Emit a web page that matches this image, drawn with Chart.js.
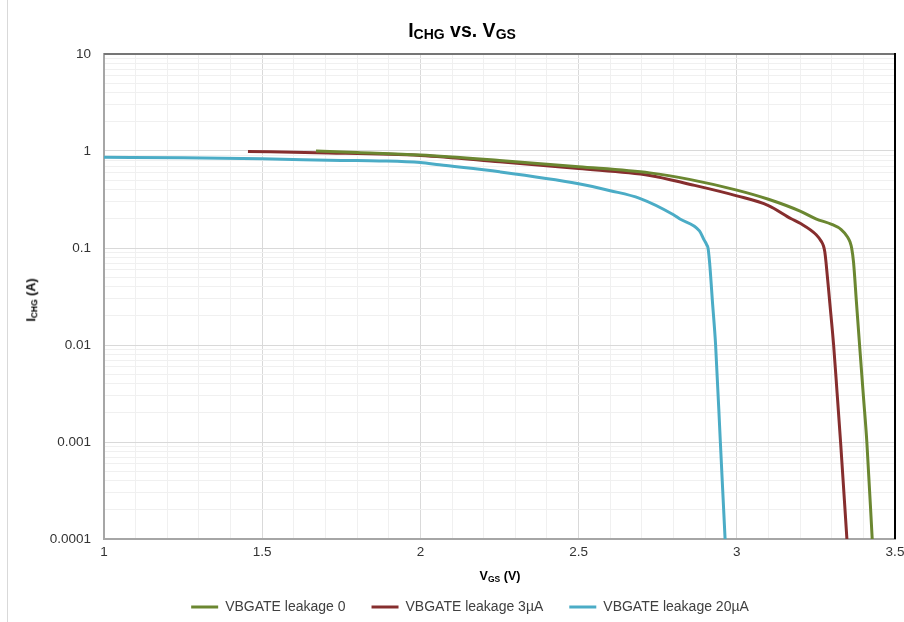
<!DOCTYPE html>
<html>
<head>
<meta charset="utf-8">
<script src="https://cdn.jsdelivr.net/npm/chart.js@4.4.0/dist/chart.umd.min.js"></script>
<style>
html,body{margin:0;padding:0;background:#fff;}
#wrap{position:relative;width:904px;height:622px;overflow:hidden;font-family:"Liberation Sans",Arial,sans-serif;background:#fff;}
#c{position:absolute;left:0;top:0;}
#edge{position:absolute;left:7px;top:0;width:0;height:622px;border-left:1px solid #d9d9d9;}
.t{position:absolute;font-weight:bold;color:#000;white-space:nowrap;line-height:1;}
.t span{line-height:1;}
#title{left:462px;top:21px;font-size:19.5px;transform:translateX(-50%);}
#title span{font-size:14px;vertical-align:-2px;}
#xt{left:500px;top:570px;font-size:12.5px;transform:translateX(-50%);}
#xt span{font-size:8.5px;vertical-align:-2px;}
#yt{left:32px;top:300px;font-size:12.5px;transform:translate(-50%,-50%) rotate(-90deg);}
#yt span{font-size:8.5px;vertical-align:-2px;}
</style>
</head>
<body>
<div id="wrap">
  <div id="edge"></div>
  <canvas id="c" width="904" height="622"></canvas>
  <div class="t" id="title">I<span>CHG</span> vs. V<span>GS</span></div>
  <div class="t" id="xt">V<span>GS</span> (V)</div>
  <div class="t" id="yt">I<span>CHG</span> (A)</div>
</div>
<script>
// ---- data ----
const seriesNames = ['VBGATE leakage 0', 'VBGATE leakage 3\u00b5A', 'VBGATE leakage 20\u00b5A'];
const seriesColors = ['#6B8731', '#862E2E', '#4BACC6'];

const vLeak0 = [1.67, 1.8, 2.0, 2.25, 2.5, 2.725, 2.85, 3.0, 3.1, 3.2, 3.25, 3.3, 3.33, 3.35, 3.358, 3.363, 3.369, 3.378, 3.388, 3.40, 3.411, 3.428];
const iLeak0 = [1.00, 0.965, 0.91, 0.80, 0.69, 0.595, 0.51, 0.395, 0.318, 0.24, 0.20, 0.175, 0.155, 0.13, 0.115, 0.10, 0.071, 0.028, 0.01, 0.003, 0.001, 0.0001];

const vLeak3 = [1.455, 1.67, 2.0, 2.25, 2.5, 2.725, 2.85, 3.0, 3.1, 3.172, 3.2, 3.251, 3.267, 3.274, 3.278, 3.282, 3.294, 3.306, 3.317, 3.328, 3.348];
const iLeak3 = [0.99, 0.96, 0.90, 0.775, 0.66, 0.56, 0.455, 0.345, 0.274, 0.20, 0.18, 0.137, 0.117, 0.105, 0.092, 0.071, 0.027, 0.01, 0.0032, 0.001, 0.0001];

const vLeak20 = [1.0, 1.25, 1.5, 1.75, 1.87, 2.0, 2.06, 2.25, 2.5, 2.6, 2.693, 2.8, 2.819, 2.882, 2.896, 2.905, 2.909, 2.914, 2.923, 2.933, 2.948, 2.963];
const iLeak20 = [0.86, 0.85, 0.83, 0.80, 0.79, 0.76, 0.72, 0.61, 0.46, 0.39, 0.325, 0.22, 0.20, 0.15, 0.122, 0.108, 0.10, 0.071, 0.028, 0.01, 0.001, 0.0001];

const xTickValues = [1, 1.5, 2, 2.5, 3, 3.5];
const xTickLabels = ['1', '1.5', '2', '2.5', '3', '3.5'];
const xMinorStep = 0.1;
const yTickValues = [0.0001, 0.001, 0.01, 0.1, 1, 10];
const yTickLabels = ['0.0001', '0.001', '0.01', '0.1', '1', '10'];
const yMinorMultipliers = [1, 2, 3, 4, 5, 6, 7, 8, 9];

// ---- grid positions ----
const xGrid = [];
for (let k = 0; xTickValues[0] + k * xMinorStep <= xTickValues[xTickValues.length - 1] + 1e-9; k++) {
  xGrid.push(+(xTickValues[0] + k * xMinorStep).toFixed(6));
}
const yGrid = [];
for (let d = 0; d < yTickValues.length - 1; d++) {
  yMinorMultipliers.forEach(m => yGrid.push(+(m * yTickValues[d]).toPrecision(6)));
}
yGrid.push(yTickValues[yTickValues.length - 1]);

function labelFor(values, labels, v) {
  for (let i = 0; i < values.length; i++) {
    if (Math.abs(values[i] - v) <= Math.abs(values[i]) * 1e-6) return labels[i];
  }
  return '';
}

function toPts(xs, ys) { return xs.map((x, i) => ({x: x, y: ys[i]})); }

const seriesX = [vLeak0, vLeak3, vLeak20];
const seriesY = [iLeak0, iLeak3, iLeak20];

const datasets = seriesNames.map((name, i) => ({
  label: name,
  data: toPts(seriesX[i], seriesY[i]),
  borderColor: seriesColors[i],
  backgroundColor: seriesColors[i],
  borderWidth: 3,
  pointRadius: 0,
  pointHoverRadius: 0,
  fill: false,
  cubicInterpolationMode: 'monotone'
}));

const framePlugin = {
  id: 'frame',
  afterDatasetsDraw(chart) {
    const {ctx, chartArea: a} = chart;
    ctx.save();
    ctx.lineWidth = 2;
    ctx.strokeStyle = '#767676';
    ctx.beginPath();
    ctx.moveTo(a.left, a.top);
    ctx.lineTo(a.right, a.top);
    ctx.stroke();
    ctx.strokeStyle = '#000';
    ctx.beginPath();
    ctx.moveTo(a.right, a.top - 1);
    ctx.lineTo(a.right, a.bottom);
    ctx.stroke();
    ctx.restore();
  }
};

Chart.defaults.font.family = '"Liberation Sans", Arial, sans-serif';

new Chart(document.getElementById('c'), {
  type: 'line',
  data: {datasets: datasets},
  plugins: [framePlugin],
  options: {
    responsive: false,
    animation: false,
    devicePixelRatio: 1,
    layout: {padding: {left: 45, right: 9, top: 54, bottom: -2}},
    plugins: {
      title: {display: false},
      tooltip: {enabled: false},
      legend: {
        position: 'bottom',
        labels: {
          usePointStyle: true,
          pointStyle: 'line',
          pointStyleWidth: 27,
          padding: 26,
          color: '#404040',
          font: {size: 14}
        }
      }
    },
    scales: {
      x: {
        type: 'linear',
        min: xTickValues[0],
        max: xTickValues[xTickValues.length - 1],
        afterBuildTicks: s => { s.ticks = xGrid.map(v => ({value: v})); },
        afterFit: s => { s.height = 35; s.paddingLeft = 0; s.paddingRight = 0; },
        ticks: {
          autoSkip: false,
          maxRotation: 0,
          padding: 5,
          color: '#333',
          font: {size: 13.5},
          callback: v => labelFor(xTickValues, xTickLabels, v)
        },
        grid: {
          drawTicks: false,
          color: c => (c.tick && labelFor(xTickValues, xTickLabels, c.tick.value) !== '') ? '#d9d9d9' : '#f0f0f0'
        },
        border: {display: true, color: '#a6a6a6', width: 2}
      },
      y: {
        type: 'logarithmic',
        min: yTickValues[0],
        max: yTickValues[yTickValues.length - 1],
        afterBuildTicks: s => { s.ticks = yGrid.map(v => ({value: v})); },
        afterFit: s => { s.width = 59; s.paddingTop = 0; s.paddingBottom = 0; },
        ticks: {
          autoSkip: false,
          padding: 13,
          color: '#333',
          font: {size: 13.5},
          callback: v => labelFor(yTickValues, yTickLabels, v)
        },
        grid: {
          drawTicks: false,
          color: c => (c.tick && labelFor(yTickValues, yTickLabels, c.tick.value) !== '') ? '#d9d9d9' : '#f0f0f0'
        },
        border: {display: true, color: '#a6a6a6', width: 2}
      }
    }
  }
});
</script>
</body>
</html>
